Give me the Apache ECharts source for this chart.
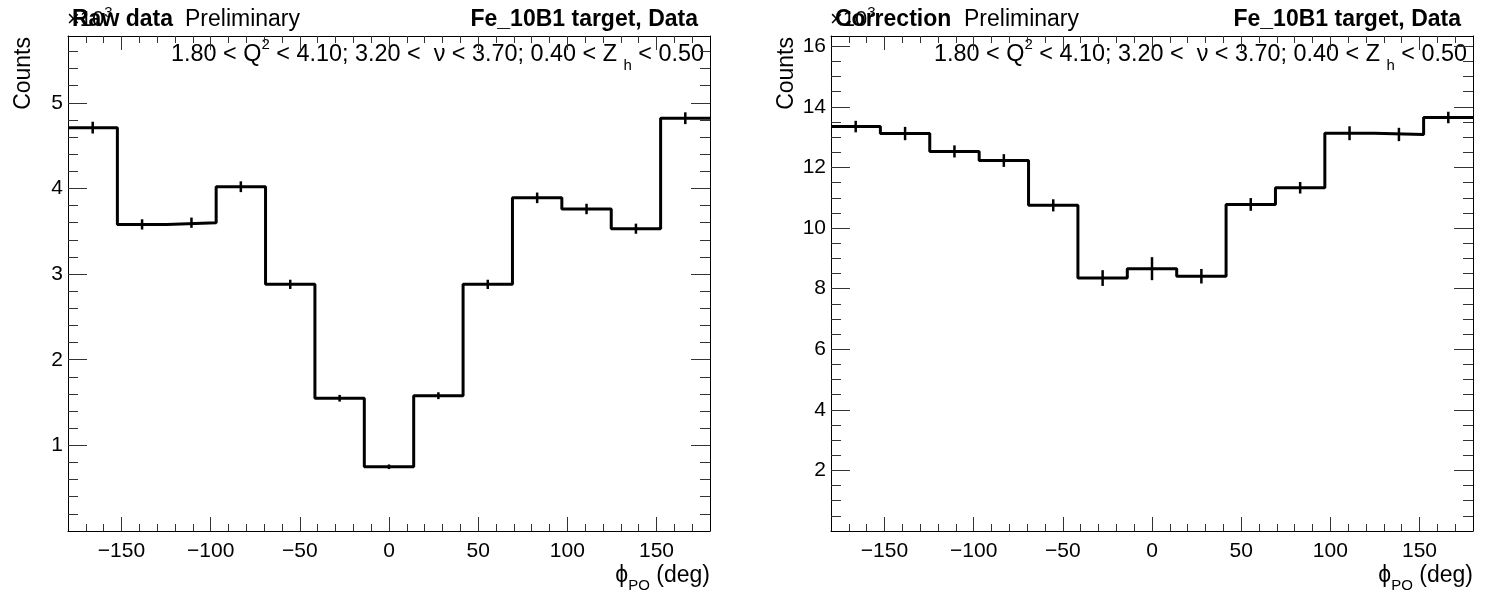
<!DOCTYPE html>
<html><head><meta charset="utf-8">
<script src="https://cdn.jsdelivr.net/npm/echarts@6/dist/echarts.min.js"></script>
<style>html,body{margin:0;padding:0;background:#fff}#c{width:1487px;height:592px}</style>
</head><body><div id="c"></div>
<script>
// ---- data ----
const binEdges   = [-180, -152.31, -124.62, -96.92, -69.23, -41.54, -13.85, 13.85, 41.54, 69.23, 96.92, 124.62, 152.31, 180];
const binCenters = [-166.15, -138.46, -110.77, -83.08, -55.38, -27.69, 0, 27.69, 55.38, 83.08, 110.77, 138.46, 166.15];
const rawValues  = [4.71, 3.58, 3.60, 4.02, 2.88, 1.55, 0.75, 1.58, 2.88, 3.89, 3.76, 3.53, 4.82];
const rawErrors  = [0.069, 0.060, 0.060, 0.063, 0.054, 0.039, 0.027, 0.040, 0.054, 0.062, 0.061, 0.059, 0.069];
const corrValues = [13.35, 13.12, 12.53, 12.23, 10.75, 8.35, 8.66, 8.41, 10.78, 11.33, 13.13, 13.09, 13.65];
const corrErrors = [0.19, 0.22, 0.20, 0.21, 0.20, 0.26, 0.38, 0.24, 0.21, 0.19, 0.23, 0.22, 0.19];
const xMajorTicks = [-150, -100, -50, 0, 50, 100, 150];
const xMinorTicks = [-170, -160, -140, -130, -120, -110, -90, -80, -70, -60, -40, -30, -20, -10,
                     10, 20, 30, 40, 60, 70, 80, 90, 110, 120, 130, 140, 160, 170];
const rawYMajor = [1, 2, 3, 4, 5];
const rawYMinor = [0.2, 0.4, 0.6, 0.8, 1.2, 1.4, 1.6, 1.8, 2.2, 2.4, 2.6, 2.8, 3.2, 3.4, 3.6, 3.8,
                   4.2, 4.4, 4.6, 4.8, 5.2, 5.4, 5.6];
const corrYMajor = [2, 4, 6, 8, 10, 12, 14, 16];
const corrYMinor = [0.5, 1, 1.5, 2.5, 3, 3.5, 4.5, 5, 5.5, 6.5, 7, 7.5, 8.5, 9, 9.5, 10.5, 11, 11.5,
                    12.5, 13, 13.5, 14.5, 15, 15.5];
const xRange = [-180, 180];
const rawYMax = 5.78;
const corrYMax = 16.34;
const panelTitles = ['Raw data', 'Correction'];

// ---- layout ----
const FONT = 'Liberation Sans, Arial, Helvetica, sans-serif';
const grids = [
  {left: 68, right: 777, top: 36, bottom: 61},
  {left: 831, right: 14, top: 36, bottom: 61}
];
const fmtMinus = v => String(v).replace('-', '\u2212');

const xAxes = [], yAxes = [];
function addXAxes(g) {
  const base = {type: 'value', gridIndex: g, min: xRange[0], max: xRange[1], splitLine: {show: false}};
  const line = {show: true, onZero: false, lineStyle: {color: '#000', width: 1}};
  const noLine = {show: false, onZero: false};
  xAxes.push(Object.assign({}, base, {position: 'bottom', axisLine: line,
    axisTick: {show: true, inside: true, length: 14, customValues: xMajorTicks, lineStyle: {color: '#333'}},
    axisLabel: {show: true, customValues: xMajorTicks, formatter: fmtMinus, fontSize: 21, fontFamily: FONT, color: '#000', margin: 10}}));
  xAxes.push(Object.assign({}, base, {position: 'bottom', axisLine: noLine,
    axisTick: {show: true, inside: true, length: 7, customValues: xMinorTicks, lineStyle: {color: '#333'}},
    axisLabel: {show: false}}));
  xAxes.push(Object.assign({}, base, {position: 'top', axisLine: line,
    axisTick: {show: true, inside: true, length: 14, customValues: xMajorTicks, lineStyle: {color: '#333'}},
    axisLabel: {show: false}}));
  xAxes.push(Object.assign({}, base, {position: 'top', axisLine: noLine,
    axisTick: {show: true, inside: true, length: 7, customValues: xMinorTicks, lineStyle: {color: '#333'}},
    axisLabel: {show: false}}));
}
function addYAxes(g, ymax, major, minor) {
  const base = {type: 'value', gridIndex: g, min: 0, max: ymax, splitLine: {show: false}};
  const line = {show: true, onZero: false, lineStyle: {color: '#000', width: 1}};
  const noLine = {show: false, onZero: false};
  yAxes.push(Object.assign({}, base, {position: 'left', axisLine: line,
    axisTick: {show: true, inside: true, length: 19, customValues: major, lineStyle: {color: '#333'}},
    axisLabel: {show: true, customValues: major, fontSize: 21, fontFamily: FONT, color: '#000', margin: 5}}));
  yAxes.push(Object.assign({}, base, {position: 'left', axisLine: noLine,
    axisTick: {show: true, inside: true, length: 10, customValues: minor, lineStyle: {color: '#333'}},
    axisLabel: {show: false}}));
  yAxes.push(Object.assign({}, base, {position: 'right', axisLine: line,
    axisTick: {show: true, inside: true, length: 19, customValues: major, lineStyle: {color: '#333'}},
    axisLabel: {show: false}}));
  yAxes.push(Object.assign({}, base, {position: 'right', axisLine: noLine,
    axisTick: {show: true, inside: true, length: 10, customValues: minor, lineStyle: {color: '#333'}},
    axisLabel: {show: false}}));
}
addXAxes(0); addXAxes(1);
addYAxes(0, rawYMax, rawYMajor, rawYMinor);
addYAxes(1, corrYMax, corrYMajor, corrYMinor);

function histSeries(g, values) {
  const data = binEdges.map((e, i) => [e, values[Math.min(i, values.length - 1)]]);
  return {type: 'line', xAxisIndex: g * 4, yAxisIndex: g * 4, data: data, step: 'end',
    symbol: 'none', lineStyle: {color: '#000', width: 3}, silent: true, animation: false, z: 3};
}
function errSeries(g, values, errs) {
  const data = binCenters.map((c, i) => [c, values[i], errs[i]]);
  return {type: 'custom', xAxisIndex: g * 4, yAxisIndex: g * 4, data: data, silent: true, animation: false, z: 4,
    renderItem: function (params, api) {
      const x = api.value(0), y = api.value(1), e = api.value(2);
      const p1 = api.coord([x, y - e]), p2 = api.coord([x, y + e]);
      return {type: 'line', shape: {x1: p1[0], y1: p1[1], x2: p2[0], y2: p2[1]},
        style: {stroke: '#000', lineWidth: 2.5}};
    }};
}

function textEl(x, y, text, opts) {
  return {type: 'text', x: x, y: y, silent: true, rotation: (opts && opts.rotation) || 0,
    style: Object.assign({text: text, fontSize: 23, fontFamily: FONT, fill: '#000', align: 'left', verticalAlign: 'middle'}, opts && opts.style)};
}
const kinRich = {
  n: {fontSize: 23.4, fontFamily: FONT, lineHeight: 36, verticalAlign: 'middle'},
  sup: {fontSize: 15, fontFamily: FONT, lineHeight: 12, verticalAlign: 'top'},
  sub: {fontSize: 15, fontFamily: FONT, lineHeight: 8, verticalAlign: 'bottom'}
};
const kinText = '{n|1.80 < Q}{sup|2}{n| < 4.10; 3.20 <  \u03bd < 3.70; 0.40 < Z }{sub|h}{n| < 0.50}';
const graphics = [];
grids.forEach((gr, g) => {
  const left = gr.left, right = 1487 - gr.right;
  // x10^3 exponent
  graphics.push({type: 'text', x: left - 1, y: 20, silent: true, style: {
    text: '{n|\u00d710}{s|3}', rich: {n: {fontSize: 22, fontFamily: FONT, lineHeight: 30, verticalAlign: 'middle'},
      s: {fontSize: 15, fontFamily: FONT, lineHeight: 14, verticalAlign: 'top'}}, fill: '#000', align: 'left', verticalAlign: 'middle'}});
  graphics.push(textEl(left + 4, 20, panelTitles[g], {style: {fontWeight: 'bold'}}));
  graphics.push(textEl(left + (g === 0 ? 117 : 133), 20, 'Preliminary'));
  graphics.push(textEl(right - 12, 20, 'Fe_10B1 target, Data', {style: {fontWeight: 'bold', align: 'right'}}));
  graphics.push({type: 'text', x: right - 6, y: 55, silent: true, style: {
    text: kinText, rich: kinRich, fill: '#000', align: 'right', verticalAlign: 'middle'}});
  // y title
  graphics.push(textEl(left - 44, 37, 'Counts', {rotation: Math.PI / 2, style: {align: 'right'}}));
  // x title
  graphics.push({type: 'text', x: right, y: 576, silent: true, style: {
    text: '{n|\u03d5}{sub|PO}{n| (deg)}', rich: {
      n: {fontSize: 23, fontFamily: FONT, lineHeight: 34, verticalAlign: 'middle'},
      sub: {fontSize: 15, fontFamily: FONT, lineHeight: 6, verticalAlign: 'bottom'}},
    fill: '#000', align: 'right', verticalAlign: 'middle'}});
});

const chart = echarts.init(document.getElementById('c'), null, {renderer: 'canvas'});
chart.setOption({
  animation: false,
  backgroundColor: '#fff',
  grid: grids,
  xAxis: xAxes,
  yAxis: yAxes,
  series: [histSeries(0, rawValues), errSeries(0, rawValues, rawErrors),
           histSeries(1, corrValues), errSeries(1, corrValues, corrErrors)],
  graphic: graphics
});
</script></body></html>
